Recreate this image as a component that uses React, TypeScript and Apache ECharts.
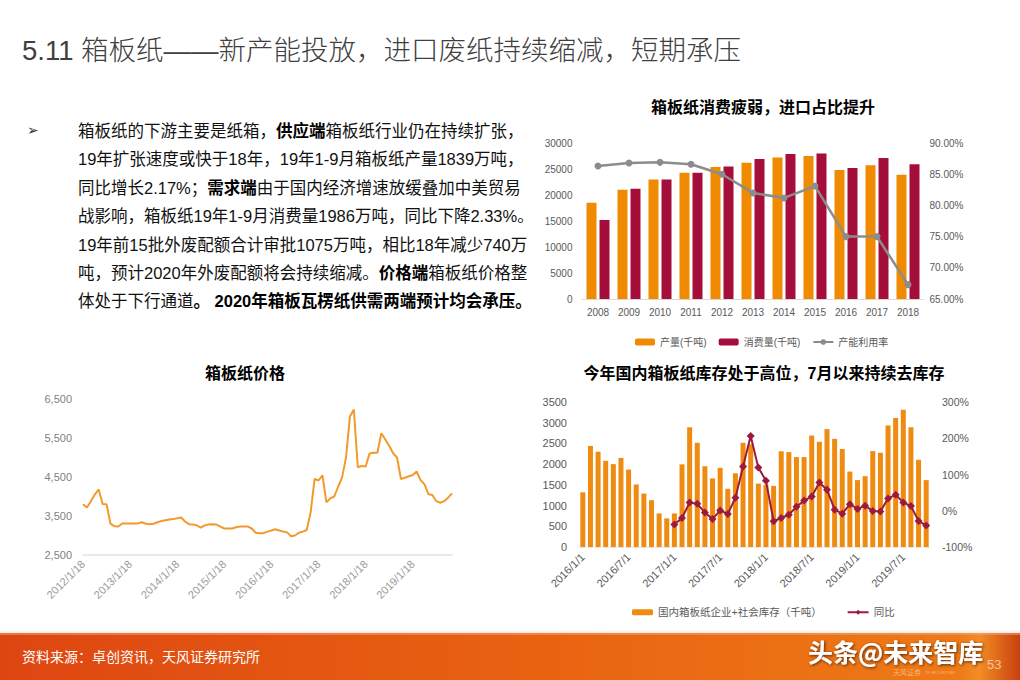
import React, { useEffect, useRef } from "react";
import * as echarts from "echarts";

// ---------- Chart 1: 箱板纸消费疲弱，进口占比提升 ----------
const years = ["2008", "2009", "2010", "2011", "2012", "2013", "2014", "2015", "2016", "2017", "2018"];
const production = [18500, 21000, 23000, 24300, 25400, 26200, 27200, 27500, 24800, 25700, 23900];
const consumption = [15200, 21200, 23000, 24300, 25500, 26900, 27900, 28000, 25200, 27100, 25900];
const utilization = [86.3, 86.8, 86.9, 86.6, 85.0, 82.0, 81.2, 83.1, 75.0, 75.0, 67.3];

// ---------- Chart 2: 箱板纸价格 (monthly) ----------
const priceYears = ["2012", "2013", "2014", "2015", "2016", "2017", "2018", "2019"];
const priceLastMonth = 11;
const priceDates: string[] = [];
priceYears.forEach((y, i) => {
  const last = i === priceYears.length - 1 ? priceLastMonth : 12;
  for (let m = 1; m <= last; m++) priceDates.push(`${y}/${m}/18`);
});
const prices = [
  3800, 3720, 3880, 4050, 4180, 3810, 3800, 3300, 3240, 3230, 3310, 3310,
  3310, 3310, 3310, 3340, 3300, 3290, 3300, 3340, 3370, 3390, 3410, 3420,
  3440, 3460, 3360, 3290, 3280, 3260, 3200, 3260, 3280, 3290, 3280, 3230,
  3180, 3180, 3180, 3210, 3230, 3230, 3230, 3180, 3070, 3060, 3060, 3100,
  3130, 3160, 3130, 3100, 3080, 2980, 3000, 3070, 3100, 3140, 3600, 4450,
  4410, 4540, 3850, 3950, 4000, 4250, 4490, 5000, 6050, 6230, 4750, 4780,
  4770, 5100, 5120, 5120, 5620, 5460, 5300, 5110, 5000, 4450, 4480, 4520,
  4550, 4640, 4420, 4310, 4060, 4040, 3880, 3840, 3880, 3970, 4080,
];

// ---------- Chart 3: 库存 ----------
const stockYears = ["2016", "2017", "2018", "2019"];
const stockLastMonth = 10;
const stockMonths: string[] = [];
stockYears.forEach((y, i) => {
  const last = i === stockYears.length - 1 ? stockLastMonth : 12;
  for (let m = 1; m <= last; m++) stockMonths.push(`${y}/${m}/1`);
});
const stock = [
  1320, 2440, 2300, 2080, 2000, 2150, 1870, 1510, 1290, 1130, 810, 690,
  810, 1995, 2890, 2515, 1950, 1655, 1910, 1405, 1780, 2515, 2480, 1530,
  1500, 1475, 2310, 2290, 2170, 2170, 2690, 2540, 2845, 2610, 2365, 1820,
  1615, 1710, 2315, 2275, 2935, 3115, 3310, 2890, 2105, 1615,
];
const stockYoY: (number | null)[] = [
  null, null, null, null, null, null, null, null, null, null, null, null,
  -38, -20, 23, 19, -5, -23, 1, -9, 36, 122, 206, 119,
  83, -29, -20, -11, 11, 28, 39, 78, 58, 3, -8, 18,
  5, 14, -1, -2, 34, 44, 23, 13, -28, -41,
];

const bodyLines = [
  "箱板纸的下游主要是纸箱，{b|供应端}箱板纸行业仍在持续扩张，",
  "19年扩张速度或快于18年，19年1-9月箱板纸产量1839万吨，",
  "同比增长2.17%；{b|需求端}由于国内经济增速放缓叠加中美贸易",
  "战影响，箱板纸19年1-9月消费量1986万吨，同比下降2.33%。",
  "19年前15批外废配额合计审批1075万吨，相比18年减少740万",
  "吨，预计2020年外废配额将会持续缩减。{b|价格端}箱板纸价格整",
  "体处于下行通道{b|。 2020年箱板瓦楞纸供需两端预计均会承压。}",
];

const FONT = "'Liberation Sans', 'Noto Sans CJK SC', sans-serif";
const CJK = "'Noto Sans CJK SC', 'Liberation Sans', sans-serif";
const LABEL = "#595959";

function txt(x: number, y: number, text: string, style: any = {}) {
  return {
    type: "text",
    x,
    y,
    silent: true,
    style: {
      text,
      fontFamily: FONT,
      fontSize: 14,
      fill: "#000",
      textAlign: "left",
      align: "left",
      textVerticalAlign: "middle",
      verticalAlign: "middle",
      ...style,
    },
  };
}

function centered(x: number, y: number, text: string, style: any = {}) {
  return txt(x, y, text, { textAlign: "center", align: "center", ...style });
}

const plain = (v: number) => String(v);

export default function App() {
  const ref = useRef<HTMLDivElement>(null);

  useEffect(() => {
    if (!ref.current) return;
    const chart = echarts.init(ref.current, undefined, { renderer: "svg" });

    const graphics: any[] = [];
    // slide title
    graphics.push(
      txt(22, 50, "5.11 箱板纸——新产能投放，进口废纸持续缩减，短期承压", {
        fontSize: 27.5,
        fill: "#404040",
        fontWeight: 300,
      })
    );
    // bullet
    graphics.push(txt(27, 130, "➢", { fontSize: 14, fill: "#333", fontFamily: "'DejaVu Sans', sans-serif" }));
    bodyLines.forEach((line, i) => {
      graphics.push(
        txt(78, 131 + i * 28.4, line, {
          fontSize: 16.5,
          fill: "#111",
          rich: {
            b: { fontWeight: "bold", fontSize: 16.5, fill: "#000", fontFamily: FONT },
          },
        })
      );
    });
    // chart titles
    const titleStyle = { fontSize: 16, fontWeight: "bold", fill: "#000", fontFamily: FONT };
    graphics.push(centered(763, 107, "箱板纸消费疲弱，进口占比提升", titleStyle));
    graphics.push(centered(245, 373, "箱板纸价格", titleStyle));
    graphics.push(centered(764, 373, "今年国内箱板纸库存处于高位，7月以来持续去库存", titleStyle));

    // footer band
    graphics.push({
      type: "rect",
      silent: true,
      shape: { x: 0, y: 633, width: 1020, height: 47 },
      style: {
        fill: new echarts.graphic.LinearGradient(0, 0, 1, 0, [
          { offset: 0, color: "#DE4611" },
          { offset: 0.55, color: "#E96412" },
          { offset: 0.94, color: "#EE7A16" },
          { offset: 0.96, color: "#F28D25" },
          { offset: 1, color: "#C9400E" },
        ]),
      },
    });
    graphics.push({
      type: "rect",
      silent: true,
      shape: { x: 0, y: 629, width: 1020, height: 6 },
      style: {
        fill: new echarts.graphic.LinearGradient(0, 0, 0, 1, [
          { offset: 0, color: "rgba(255,255,255,0)" },
          { offset: 1, color: "rgba(240,150,110,0.6)" },
        ]),
      },
    });
    graphics.push(txt(22, 656, "资料来源：卓创资讯，天风证券研究所", { fontSize: 14, fill: "#fff", fontFamily: CJK }));
    graphics.push(txt(893, 672, "天风证券", { fontSize: 7, fill: "rgba(255,230,210,0.55)", fontFamily: CJK }));
    graphics.push(txt(925, 672, "TF SECURITIES", { fontSize: 4, fill: "rgba(255,230,210,0.55)" }));
    graphics.push(txt(987, 664, "53", { fontSize: 13, fill: "rgba(255,235,215,0.7)" }));
    graphics.push(
      txt(808, 651, "头条@未来智库", {
        fontSize: 25,
        fill: "#fff",
        fontFamily: CJK,
        fontWeight: "bold",
        textShadowColor: "rgba(0,0,0,0.65)",
        textShadowBlur: 3,
        textShadowOffsetX: 1,
        textShadowOffsetY: 1,
      })
    );

    const noLine = { show: false };
    const option: any = {
      animation: false,
      textStyle: { fontFamily: FONT },
      grid: [
        { left: 582.5, top: 143, width: 341, height: 156 },
        { left: 83, top: 399, width: 369, height: 156 },
        { left: 579, top: 402, width: 351, height: 145 },
      ],
      legend: [
        {
          data: ["产量(千吨)", "消费量(千吨)", "产能利用率"],
          left: 630,
          top: 332,
          itemWidth: 20,
          itemHeight: 7,
          itemGap: 12,
          textStyle: { fontSize: 10, color: LABEL, fontFamily: FONT },
        },
        {
          data: ["国内箱板纸企业+社会库存（千吨）", "同比"],
          left: 627,
          top: 602,
          itemWidth: 21,
          itemHeight: 6,
          itemGap: 25,
          textStyle: { fontSize: 10.5, color: LABEL, fontFamily: FONT },
        },
      ],
      xAxis: [
        {
          type: "category",
          gridIndex: 0,
          data: years,
          axisLine: { lineStyle: { color: "#d9d9d9" } },
          axisTick: noLine,
          axisLabel: { color: LABEL, fontSize: 10, margin: 8 },
        },
        {
          type: "category",
          gridIndex: 1,
          data: priceDates,
          boundaryGap: false,
          axisLine: { lineStyle: { color: "#e3e3e3", width: 1.5 } },
          axisTick: noLine,
          axisLabel: { color: "#9a9a9a", fontSize: 11, rotate: 45, interval: 11, margin: 7 },
        },
        {
          type: "category",
          gridIndex: 2,
          data: stockMonths,
          axisLine: { lineStyle: { color: "#e6e6e6" } },
          axisTick: noLine,
          axisLabel: { color: LABEL, fontSize: 11, rotate: 45, interval: 5, margin: 8 },
        },
      ],
      yAxis: [
        {
          type: "value",
          gridIndex: 0,
          min: 0,
          max: 30000,
          interval: 5000,
          splitLine: noLine,
          axisLine: noLine,
          axisTick: noLine,
          axisLabel: { color: LABEL, fontSize: 10, margin: 10, formatter: plain },
        },
        {
          type: "value",
          gridIndex: 0,
          position: "right",
          min: 65,
          max: 90,
          interval: 5,
          splitLine: noLine,
          axisLine: noLine,
          axisTick: noLine,
          axisLabel: { color: LABEL, fontSize: 10, margin: 6, formatter: (v: number) => v.toFixed(2) + "%" },
        },
        {
          type: "value",
          gridIndex: 1,
          min: 2500,
          max: 6500,
          interval: 1000,
          splitLine: noLine,
          axisLine: noLine,
          axisTick: noLine,
          axisLabel: {
            color: "#7f7f7f",
            fontSize: 11,
            margin: 11,
            formatter: (v: number) => v.toLocaleString("en-US"),
          },
        },
        {
          type: "value",
          gridIndex: 2,
          min: 0,
          max: 3500,
          interval: 500,
          splitLine: noLine,
          axisLine: noLine,
          axisTick: noLine,
          axisLabel: { color: LABEL, fontSize: 11, margin: 12, formatter: plain },
        },
        {
          type: "value",
          gridIndex: 2,
          position: "right",
          min: -100,
          max: 300,
          interval: 100,
          splitLine: noLine,
          axisLine: noLine,
          axisTick: noLine,
          axisLabel: { color: LABEL, fontSize: 10.5, margin: 12, formatter: (v: number) => v + "%" },
        },
      ],
      series: [
        {
          name: "产量(千吨)",
          type: "bar",
          xAxisIndex: 0,
          yAxisIndex: 0,
          data: production,
          barWidth: 10,
          barGap: "30%",
          itemStyle: { color: "#F08A00" },
        },
        {
          name: "消费量(千吨)",
          type: "bar",
          xAxisIndex: 0,
          yAxisIndex: 0,
          data: consumption,
          barWidth: 10,
          barGap: "30%",
          itemStyle: { color: "#A50E3B" },
        },
        {
          name: "产能利用率",
          type: "line",
          xAxisIndex: 0,
          yAxisIndex: 1,
          data: utilization,
          symbol: "circle",
          symbolSize: 7,
          showAllSymbol: true,
          itemStyle: { color: "#8C8C8C" },
          lineStyle: { color: "#8C8C8C", width: 2.5 },
        },
        {
          name: "箱板纸价格",
          type: "line",
          xAxisIndex: 1,
          yAxisIndex: 2,
          data: prices,
          showSymbol: false,
          itemStyle: { color: "#F29A2E" },
          lineStyle: { color: "#F29A2E", width: 2 },
        },
        {
          name: "国内箱板纸企业+社会库存（千吨）",
          type: "bar",
          xAxisIndex: 2,
          yAxisIndex: 3,
          data: stock,
          barWidth: 5,
          itemStyle: { color: "#EE8B10" },
        },
        {
          name: "同比",
          type: "line",
          xAxisIndex: 2,
          yAxisIndex: 4,
          data: stockYoY,
          symbol: "diamond",
          symbolSize: 8,
          showAllSymbol: true,
          itemStyle: { color: "#9C1A3E" },
          lineStyle: { color: "#9C1A3E", width: 2 },
        },
      ],
      graphic: graphics,
    };

    chart.setOption(option);
    return () => chart.dispose();
  }, []);

  return (
    <div
      ref={ref}
      style={{ position: "fixed", left: 0, top: 0, width: 1020, height: 680, background: "#fff" }}
    />
  );
}
